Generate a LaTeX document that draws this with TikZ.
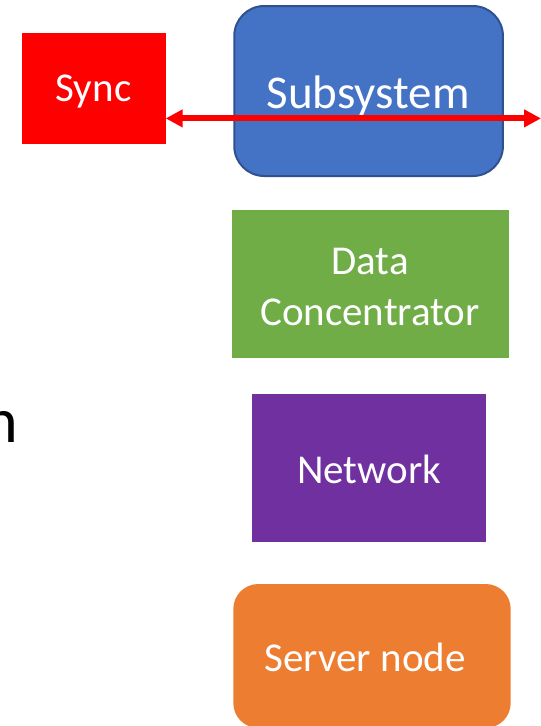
\documentclass[tikz,border=0pt]{standalone}
\usepackage{fontspec}
\setmainfont{Carlito}
\usetikzlibrary{arrows.meta}

\definecolor{syncred}{HTML}{FF0000}
\definecolor{subblue}{HTML}{4472C4}
\definecolor{subedge}{HTML}{2F528F}
\definecolor{dcgreen}{HTML}{70AD47}
\definecolor{netpurple}{HTML}{7030A0}
\definecolor{srvorange}{HTML}{ED7D31}

\tikzset{
  blockbox/.style={inner sep=0pt, outer sep=0pt, draw=none},
  lbl/.style={inner sep=0pt, outer sep=0pt, text=white, font=\fontsize{41}{51}\selectfont},
  link/.style={draw=syncred, line width=6pt,
    {Triangle[length=17pt,width=17pt]}-{Triangle[length=17pt,width=17pt]}},
}

\begin{document}
\begin{tikzpicture}[x=1pt, y=-1pt]
  \useasboundingbox (0,0) rectangle (541,726);

  % partially visible letter at the left edge
  \node[inner sep=0pt, anchor=base east, font=\fontsize{64}{70}\selectfont] (edge) at (18.3,442) {n};

  % boxes
  \node[blockbox, fill=syncred, minimum width=143.4pt, minimum height=111pt] (sync) at (94,88.8) {};
  \node[blockbox, fill=subblue, draw=subedge, line width=2pt, rounded corners=30pt,
        minimum width=268.7pt, minimum height=170pt] (subsys) at (368.6,91) {};
  \node[blockbox, fill=dcgreen, minimum width=277pt, minimum height=148pt] (dc) at (370.2,284) {};
  \node[blockbox, fill=netpurple, minimum width=234.5pt, minimum height=148pt] (net) at (369,468) {};
  \node[blockbox, fill=srvorange, rounded corners=25pt, minimum width=277.4pt, minimum height=144pt] (srv) at (372,656) {};

  % labels (the two-line label sits on the baseline of its last line)
  \node[lbl, anchor=base] (synclbl) at (93.5,101.7) {Sync};
  \node[lbl, anchor=base, font=\fontsize{47}{56}\selectfont] (sublbl) at (368,108) {Subsystem};
  \node[lbl, anchor=base, align=center] (dclbl) at (370,325) {Data\\Concentrator};
  \node[lbl, anchor=base] (netlbl) at (369,483) {Network};
  \node[lbl, anchor=base] (srvlbl) at (365,671.7) {Server node};

  % sync link across the subsystem
  \coordinate (linkend) at (541,118.4);
  \draw[link] (sync.east |- linkend) -- (linkend);
\end{tikzpicture}
\end{document}
